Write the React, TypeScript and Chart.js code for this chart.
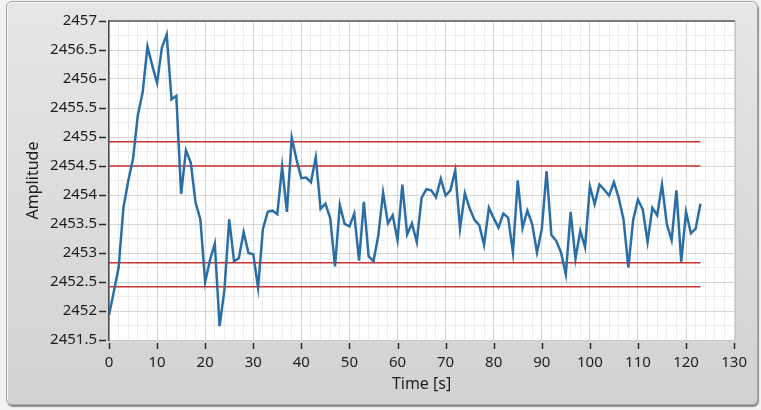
import React, { useEffect, useRef } from 'react';
import { Chart, registerables } from 'chart.js';

Chart.register(...registerables);

// Sample instants [s]
const times = [
  0, 1, 2, 3, 4, 5, 6, 7, 8, 9, 10, 11, 12, 13, 14, 15, 16, 17, 18, 19,
  20, 21, 22, 23, 24, 25, 26, 27, 28, 29, 30, 31, 32, 33, 34, 35, 36, 37, 38, 39,
  40, 41, 42, 43, 44, 45, 46, 47, 48, 49, 50, 51, 52, 53, 54, 55, 56, 57, 58, 59,
  60, 61, 62, 63, 64, 65, 66, 67, 68, 69, 70, 71, 72, 73, 74, 75, 76, 77, 78, 79,
  80, 81, 82, 83, 84, 85, 86, 87, 88, 89, 90, 91, 92, 93, 94, 95, 96, 97, 98, 99,
  100, 101, 102, 103, 104, 105, 106, 107, 108, 109, 110, 111, 112, 113, 114, 115, 116, 117, 118, 119,
  120, 121, 122, 123,
];

// Amplitude values
const amplitude = [
  2451.93, 2452.33, 2452.75, 2453.78, 2454.24, 2454.63, 2455.38, 2455.77, 2456.56, 2456.23,
  2455.93, 2456.54, 2456.77, 2455.65, 2455.71, 2454.02, 2454.77, 2454.56, 2453.87, 2453.58,
  2452.50, 2452.88, 2453.16, 2451.74, 2452.36, 2453.58, 2452.86, 2452.91, 2453.36, 2453.00,
  2452.98, 2452.40, 2453.41, 2453.71, 2453.73, 2453.67, 2454.49, 2453.71, 2454.99, 2454.61,
  2454.29, 2454.30, 2454.22, 2454.65, 2453.76, 2453.85, 2453.60, 2452.77, 2453.83, 2453.50,
  2453.46, 2453.68, 2452.87, 2453.88, 2452.94, 2452.86, 2453.30, 2454.04, 2453.51, 2453.65,
  2453.22, 2454.18, 2453.32, 2453.51, 2453.19, 2453.95, 2454.10, 2454.08, 2453.96, 2454.28,
  2453.99, 2454.08, 2454.42, 2453.42, 2454.03, 2453.77, 2453.57, 2453.48, 2453.14, 2453.78,
  2453.60, 2453.44, 2453.68, 2453.61, 2453.01, 2454.25, 2453.43, 2453.73, 2453.50, 2453.01,
  2453.41, 2454.41, 2453.31, 2453.21, 2453.01, 2452.63, 2453.71, 2452.90, 2453.38, 2453.10,
  2454.15, 2453.84, 2454.18, 2454.09, 2453.99, 2454.22, 2453.95, 2453.58, 2452.75, 2453.57,
  2453.92, 2453.75, 2453.19, 2453.78, 2453.65, 2454.18, 2453.50, 2453.22, 2454.08, 2452.85,
  2453.71, 2453.34, 2453.42, 2453.85,
];

// Horizontal limit levels (red lines)
const limitLevels = [2454.92, 2454.5, 2452.83, 2452.42];

// Labelled tick values
const xTickLabels = [0, 10, 20, 30, 40, 50, 60, 70, 80, 90, 100, 110, 120, 130];
const yTickLabels = [2451.5, 2452, 2452.5, 2453, 2453.5, 2454, 2454.5, 2455, 2455.5, 2456, 2456.5, 2457];

const X_MIN = 0;
const X_MAX = 130;
const Y_MIN = 2451.5;
const Y_MAX = 2457;

const FONT = '"Noto Sans", "Open Sans", sans-serif';
const TEXT = '#1e1e1e';

export default function App() {
  const ref = useRef<HTMLCanvasElement>(null);

  useEffect(() => {
    const canvas = ref.current;
    if (!canvas) return;

    const framePlugin = {
      id: 'frame',
      beforeDraw(chart: any) {
        const { ctx, chartArea: a } = chart;
        ctx.save();
        ctx.fillStyle = '#ffffff';
        ctx.fillRect(a.left, a.top, a.right - a.left + 1, a.bottom - a.top);
        ctx.restore();
      },
      afterDraw(chart: any) {
        const { ctx, chartArea: a, scales } = chart;
        ctx.save();
        // top frame (dark) and right (light)
        ctx.strokeStyle = '#5a5a5a';
        ctx.lineWidth = 1.5;
        ctx.beginPath();
        ctx.moveTo(a.left, a.top);
        ctx.lineTo(a.right + 1, a.top);
        ctx.stroke();
        ctx.strokeStyle = '#c4c4c4';
        ctx.lineWidth = 1;
        ctx.beginPath();
        ctx.moveTo(a.right + 1.5, a.top);
        ctx.lineTo(a.right + 1.5, a.bottom);
        ctx.stroke();
        // tick marks
        ctx.strokeStyle = '#2a2a2a';
        ctx.lineWidth = 1.5;
        ctx.beginPath();
        for (const v of yTickLabels) {
          const y = Math.round(scales.y.getPixelForValue(v)) + 0.5;
          ctx.moveTo(a.left - 10, y);
          ctx.lineTo(a.left - 3, y);
        }
        for (const v of xTickLabels) {
          const x = Math.round(scales.x.getPixelForValue(v)) + 0.5;
          ctx.moveTo(x, a.bottom + 3);
          ctx.lineTo(x, a.bottom + 9);
        }
        ctx.stroke();
        ctx.restore();
      },
    };

    const chart = new Chart(canvas, {
      type: 'line',
      data: {
        datasets: [
          {
            label: 'Amplitude',
            data: times.map((t, i) => ({ x: t, y: amplitude[i] })),
            borderColor: '#2b6ea6',
            borderWidth: 2.5,
            pointRadius: 0,
            tension: 0,
            fill: false,
          },
          ...limitLevels.map((v) => ({
            label: 'limit',
            data: [
              { x: times[0], y: v },
              { x: times[times.length - 1], y: v },
            ],
            borderColor: '#c8322f',
            borderWidth: 1.5,
            pointRadius: 0,
            fill: false,
          })),
        ],
      },
      options: {
        animation: false,
        responsive: false,
        maintainAspectRatio: false,
        devicePixelRatio: 1,
        layout: { padding: { top: 18, right: 25, bottom: 0, left: 0 } },
        plugins: { legend: { display: false }, tooltip: { enabled: false } },
        scales: {
          x: {
            type: 'linear',
            min: X_MIN,
            max: X_MAX,
            afterFit: (s: any) => {
              s.height = 70;
            },
            ticks: {
              stepSize: 2,
              autoSkip: false,
              maxRotation: 0,
              padding: 14,
              color: TEXT,
              font: { family: FONT, size: 15 },
              callback: (v: any) => (Number(v) % 10 === 0 ? String(v) : ''),
            },
            grid: {
              drawTicks: false,
              color: (c: any) => (c.tick && c.tick.value % 10 === 0 ? '#d6d6d6' : '#ececec'),
              lineWidth: 1,
            },
            border: { display: true, color: '#c8c8c8', width: 1 },
            title: {
              display: true,
              text: 'Time [s]',
              color: TEXT,
              font: { family: FONT, size: 16 },
              padding: { top: 0, bottom: 16 },
            },
          },
          y: {
            type: 'linear',
            min: Y_MIN,
            max: Y_MAX,
            afterFit: (s: any) => {
              s.width = 109;
            },
            ticks: {
              stepSize: 0.25,
              autoSkip: false,
              padding: 12,
              color: TEXT,
              font: { family: FONT, size: 15 },
              callback: (v: any) => (Math.abs(Number(v) * 2 - Math.round(Number(v) * 2)) < 1e-6 ? String(v) : ''),
            },
            grid: {
              drawTicks: false,
              color: (c: any) =>
                c.tick && Math.abs(c.tick.value * 2 - Math.round(c.tick.value * 2)) < 1e-6 ? '#d6d6d6' : '#ececec',
              lineWidth: 1,
            },
            border: { display: true, color: '#4a4a4a', width: 1.5 },
            title: {
              display: true,
              text: 'Amplitude',
              color: TEXT,
              font: { family: FONT, size: 16 },
              padding: { top: 24, bottom: 0 },
            },
          },
        },
      },
      plugins: [framePlugin],
    } as any);

    return () => {
      chart.destroy();
    };
  }, []);

  return (
    <div
      style={{
        position: 'fixed',
        left: 0,
        top: 0,
        width: 761,
        height: 410,
        background: '#f2f2f2',
        overflow: 'hidden',
      }}
    >
      <div
        style={{
          position: 'absolute',
          left: 6,
          top: 1,
          width: 752,
          height: 404,
          boxSizing: 'border-box',
          border: '1px solid #a4a4a4',
          borderRadius: 6,
          background: 'linear-gradient(#e6e6e6, #d2d2d2)',
          boxShadow: 'inset 1px 1px 0 #f8f8f8, 1px 2px 1px #8c8c8c',
        }}
      />
      <canvas
        ref={ref}
        width={761}
        height={410}
        style={{ position: 'absolute', left: 0, top: 0, width: 761, height: 410 }}
      />
    </div>
  );
}
